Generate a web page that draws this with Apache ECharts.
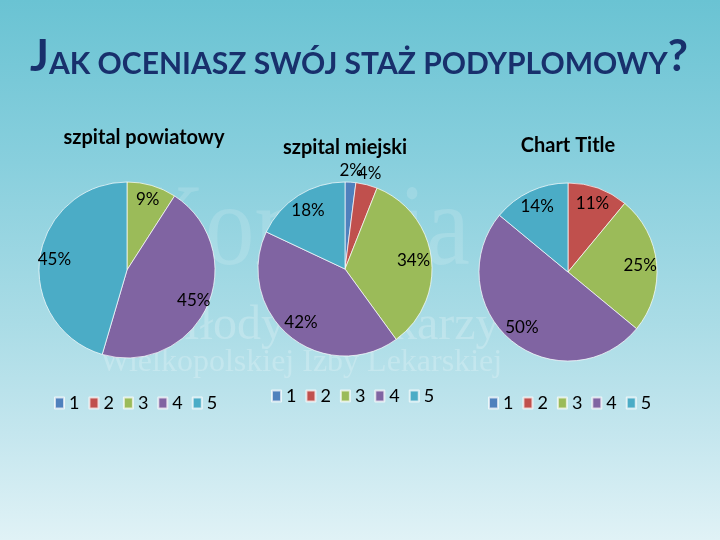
<!DOCTYPE html>
<html><head><meta charset="utf-8">
<script src="https://cdn.jsdelivr.net/npm/echarts@6/dist/echarts.min.js"></script>
<style>html,body{margin:0;padding:0;}#c{width:720px;height:540px;}</style>
</head><body><div id="c"></div>
<script>
var categories = ['1', '2', '3', '4', '5'];
var pieTitles = ['szpital powiatowy', 'szpital miejski', 'Chart Title'];
var powiatowy = [0, 0, 9, 45, 45];
var miejski = [2, 4, 34, 42, 18];
var chartTitle = [0, 11, 25, 50, 14];
var mainTitle = 'JAK OCENIASZ SWÓJ STAŻ PODYPLOMOWY?';

var colors = ['#4F81BD', '#C0504D', '#9BBB59', '#8064A2', '#4BACC6'];
var FONT = 'Lato';

var pies = [
  {values: powiatowy, center: [127, 270], r: 88, inF: 0.80, title: [139, 123], legend: [49, 389]},
  {values: miejski, center: [345, 269], r: 87, inF: 0.76, title: [340, 133], legend: [266, 382]},
  {values: chartTitle, center: [568, 272], r: 89, inF: 0.78, title: [563, 131], legend: [483, 389]}
];

function mainData(vals) {
  return categories.map(function (c, i) { return {name: c, value: vals[i]}; });
}
function labelData(vals, test) {
  return categories.map(function (c, i) {
    return {name: c, value: vals[i], label: {show: vals[i] > 0 && test(vals[i], i)}};
  });
}

var series = [];
var legends = [];
var titles = [{
  text: '{a|' + mainTitle.charAt(0) + '}{b|' + mainTitle.slice(1, -1) + '}{a|' + mainTitle.slice(-1) + '}',
  left: 25, top: 30,
  textStyle: {
    rich: {
      a: {fontFamily: FONT, fontSize: 44, color: '#18306C', verticalAlign: 'bottom'},
      b: {fontFamily: FONT, fontSize: 30, color: '#18306C', verticalAlign: 'bottom'}
    }
  }
}];

var labelStyle = {show: true, position: 'inside', formatter: '{c}%', fontFamily: FONT, fontSize: 17, color: '#000', textBorderWidth: 0};

pies.forEach(function (p, k) {
  titles.push({
    text: pieTitles[k], left: p.title[0], top: p.title[1], textAlign: 'center',
    textStyle: {fontFamily: FONT, fontSize: 20, fontWeight: 'bold', color: '#000'}
  });
  legends.push({
    data: categories, left: p.legend[0], top: p.legend[1], orient: 'horizontal',
    icon: 'rect', itemWidth: 9, itemHeight: 11, itemGap: 9, selectedMode: false,
    textStyle: {fontFamily: FONT, fontSize: 18, color: '#000'}
  });
  series.push({
    type: 'pie', center: p.center, radius: [0, p.r], startAngle: 90, clockwise: true,
    data: mainData(p.values), label: {show: false}, labelLine: {show: false},
    itemStyle: {borderColor: 'rgba(255,255,255,0.7)', borderWidth: 1},
    emphasis: {disabled: true}, silent: true, z: 3
  });
});
pies.forEach(function (p, k) {
  series.push({
    type: 'pie', center: p.center, radius: [0, 2 * p.inF * p.r], startAngle: 90, clockwise: true,
    data: labelData(p.values, function (v) { return v >= 5; }),
    label: labelStyle, labelLine: {show: false}, avoidLabelOverlap: false, labelLayout: {hideOverlap: false},
    itemStyle: {color: 'transparent', borderWidth: 0},
    emphasis: {disabled: true}, silent: true, z: 4
  });
  // small slices: one label series each, labels just outside the rim
  p.values.forEach(function (v, idx) {
    if (v > 0 && v < 5) {
      series.push({
        type: 'pie', center: p.center, radius: [0, 2 * 1.1 * p.r], startAngle: 90, clockwise: true,
        data: labelData(p.values, function (w, j) { return j === idx; }),
        label: labelStyle, labelLine: {show: false}, avoidLabelOverlap: false, labelLayout: {hideOverlap: false},
        itemStyle: {color: 'transparent', borderWidth: 0},
        emphasis: {disabled: true}, silent: true, z: 4
      });
    }
  });
});

var wm = 'rgba(255,255,255,0.22)';
var chart = echarts.init(document.getElementById('c'));
chart.setOption({
  backgroundColor: {
    type: 'linear', x: 0, y: 0, x2: 0, y2: 1,
    colorStops: [
      {offset: 0, color: '#6AC3D3'},
      {offset: 0.3, color: '#88CFDD'},
      {offset: 0.6, color: '#AADCE6'},
      {offset: 0.8, color: '#C4E6EE'},
      {offset: 1, color: '#E0F2F6'}
    ]
  },
  color: colors,
  animation: false,
  title: titles,
  legend: legends,
  graphic: [
    {type: 'text', x: 133, y: 175, scaleX: 0.85, z: 0, silent: true,
      style: {text: 'Komisja', font: '117px "Liberation Serif"', fill: 'rgba(255,255,255,0.15)'}},
    {type: 'text', x: 157, y: 302, z: 0, silent: true,
      style: {text: 'Młodych Lekarzy', font: '48px "Liberation Serif"', fill: wm}},
    {type: 'text', x: 100, y: 347, z: 0, silent: true,
      style: {text: 'Wielkopolskiej Izby Lekarskiej', font: '32px "Liberation Serif"', fill: wm}}
  ],
  series: series
});
</script></body></html>
